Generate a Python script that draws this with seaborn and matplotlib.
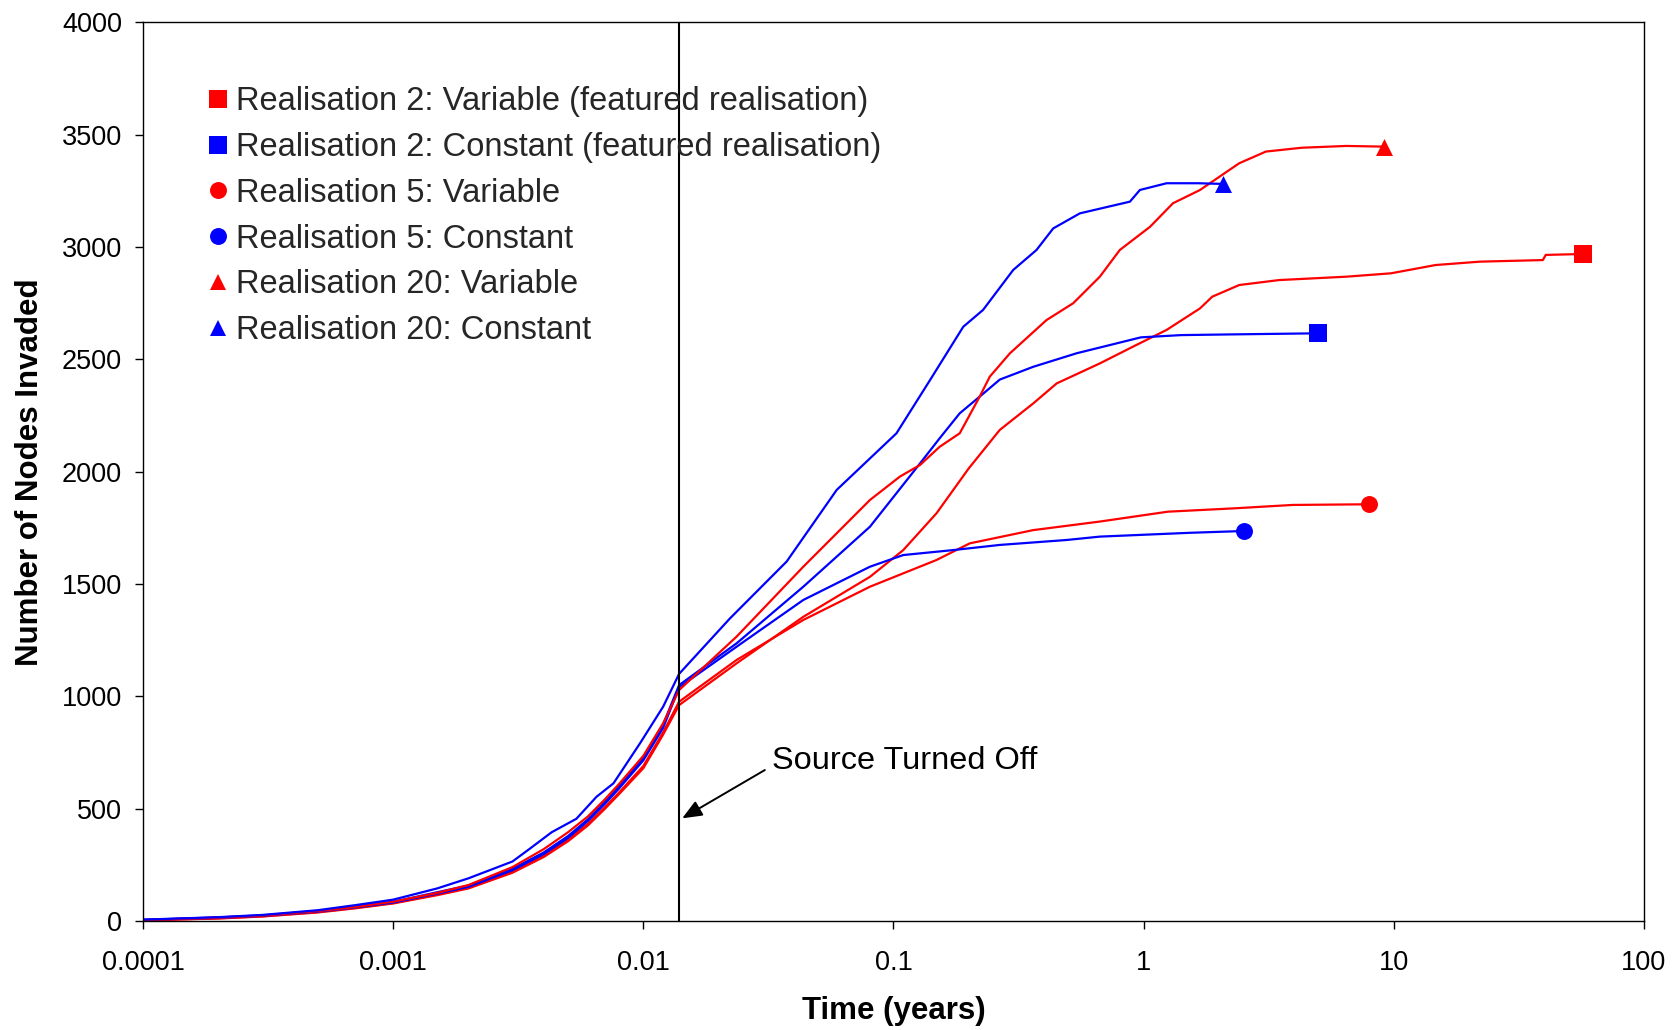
import matplotlib
matplotlib.use("Agg")
import matplotlib.pyplot as plt
from matplotlib.lines import Line2D
from matplotlib.ticker import NullLocator
import seaborn as sns

# ---------------- data ----------------
t_r2_var = [0.0001, 0.0002, 0.0003, 0.0005, 0.0007, 0.001, 0.0015, 0.002, 0.003, 0.004,
            0.005, 0.006, 0.007, 0.008, 0.01, 0.012, 0.0139, 0.0236, 0.0436, 0.0805,
            0.1094, 0.1486, 0.2, 0.266, 0.362, 0.449, 0.668, 0.908, 1.235, 1.68, 1.88,
            2.41, 3.48, 6.45, 9.73, 14.7, 22.1, 39.4, 40.5, 56.9]
n_r2_var = [3, 11, 20, 38, 56, 78, 115, 145, 215, 285,
            355, 425, 498, 565, 680, 830, 961, 1147, 1354, 1532,
            1651, 1815, 2015, 2186, 2304, 2393, 2482, 2557, 2631, 2727, 2779,
            2831, 2853, 2868, 2883, 2920, 2935, 2942, 2965, 2969]

t_r2_con = [0.0001, 0.0002, 0.0003, 0.0005, 0.0007, 0.001, 0.0015, 0.002, 0.003, 0.004,
            0.005, 0.006, 0.007, 0.008, 0.01, 0.012, 0.0139, 0.0236, 0.0436, 0.0805,
            0.1277, 0.153, 0.184, 0.221, 0.266, 0.362, 0.539, 0.975, 1.41, 2.2, 4.97]
n_r2_con = [5, 16, 25, 45, 64, 85, 128, 158, 232, 305,
            378, 452, 528, 600, 725, 875, 1050, 1236, 1488, 1755,
            2037, 2149, 2260, 2334, 2410, 2467, 2527, 2598, 2608, 2611, 2616]

t_r5_var = [0.0001, 0.0002, 0.0003, 0.0005, 0.0007, 0.001, 0.0015, 0.002, 0.003, 0.004,
            0.005, 0.006, 0.007, 0.008, 0.01, 0.012, 0.0139, 0.0236, 0.0436, 0.0805,
            0.1486, 0.2018, 0.362, 0.668, 1.25, 2.31, 3.94, 7.98]
n_r5_var = [3, 12, 21, 40, 58, 80, 118, 148, 220, 290,
            362, 432, 505, 572, 690, 840, 976, 1162, 1340, 1488,
            1607, 1681, 1740, 1778, 1822, 1837, 1852, 1855]

t_r5_con = [0.0001, 0.0002, 0.0003, 0.0005, 0.0007, 0.001, 0.0015, 0.002, 0.003, 0.004,
            0.005, 0.006, 0.007, 0.008, 0.01, 0.012, 0.0139, 0.0236, 0.0436, 0.0805,
            0.1094, 0.173, 0.266, 0.492, 0.668, 1.53, 2.52]
n_r5_con = [5, 14, 23, 42, 60, 82, 122, 152, 226, 298,
            370, 445, 520, 590, 715, 860, 1040, 1221, 1429, 1577,
            1629, 1651, 1674, 1696, 1711, 1728, 1736]

t_r20_var = [0.0001, 0.0002, 0.0003, 0.0005, 0.0007, 0.001, 0.0015, 0.002, 0.003, 0.004,
             0.005, 0.006, 0.007, 0.008, 0.01, 0.012, 0.0139, 0.0236, 0.0436, 0.0805,
             0.106, 0.1277, 0.153, 0.184, 0.221, 0.2426, 0.292, 0.409, 0.523, 0.668,
             0.803, 1.06, 1.31, 1.68, 2.2, 2.41, 3.08, 4.28, 6.45, 9.16]
n_r20_var = [4, 15, 24, 44, 62, 86, 125, 160, 240, 320,
             395, 465, 540, 610, 735, 880, 1028, 1266, 1577, 1874,
             1978, 2030, 2111, 2171, 2334, 2423, 2527, 2675, 2750, 2868,
             2987, 3090, 3195, 3254, 3343, 3373, 3425, 3442, 3450, 3447]

t_r20_con = [0.0001, 0.0002, 0.0003, 0.0005, 0.0007, 0.001, 0.0015, 0.002, 0.003, 0.0035,
             0.0043, 0.0054, 0.0065, 0.0076, 0.0097, 0.012, 0.0139, 0.0222, 0.0374, 0.0593,
             0.1028, 0.14, 0.19, 0.228, 0.301, 0.373, 0.435, 0.556, 0.881, 0.966,
             1.235, 1.65, 2.07]
n_r20_con = [6, 17, 27, 48, 70, 95, 145, 190, 265, 320,
             395, 455, 553, 613, 791, 954, 1100, 1347, 1600, 1919,
             2171, 2408, 2645, 2720, 2898, 2987, 3083, 3150, 3202, 3254,
             3284, 3284, 3281]

labels = ["Realisation 2: Variable (featured realisation)",
          "Realisation 2: Constant (featured realisation)",
          "Realisation 5: Variable",
          "Realisation 5: Constant",
          "Realisation 20: Variable",
          "Realisation 20: Constant"]

x_tick_vals = [0.0001, 0.001, 0.01, 0.1, 1, 10, 100]
x_tick_labels = ["0.0001", "0.001", "0.01", "0.1", "1", "10", "100"]
y_tick_vals = [0, 500, 1000, 1500, 2000, 2500, 3000, 3500, 4000]

source_off_time = 0.0139

# ---------------- style ----------------
sns.set_theme(style="white")
plt.rcParams["font.family"] = ["Liberation Sans", "DejaVu Sans"]

RED = "#FF0000"
BLUE = "#0000FF"

series = [
    (t_r2_var, n_r2_var, RED, "s", 13.0),
    (t_r2_con, n_r2_con, BLUE, "s", 13.0),
    (t_r5_var, n_r5_var, RED, "o", 12.2),
    (t_r5_con, n_r5_con, BLUE, "o", 12.2),
    (t_r20_var, n_r20_var, RED, "^", 12.2),
    (t_r20_con, n_r20_con, BLUE, "^", 12.2),
]

fig = plt.figure(figsize=(16.75, 10.3), dpi=100)
ax = fig.add_axes([0.08537, 0.10583, 0.89612, 0.87243])
ax.set_xscale("log")

for t, n, col, mk, ms in series:
    sns.lineplot(x=t, y=n, ax=ax, color=col, linewidth=1.6, estimator=None,
                 sort=False, legend=False)
    sns.scatterplot(x=[t[-1]], y=[n[-1]], ax=ax, color=col, marker=mk, s=ms ** 2,
                    linewidth=0, zorder=5, legend=False)

ax.axvline(source_off_time, color="black", linewidth=1.5, zorder=4)

ax.set_xlim(1e-4, 100)
ax.set_ylim(0, 4000)
ax.set_xticks(x_tick_vals)
ax.set_xticklabels(x_tick_labels)
ax.xaxis.set_minor_locator(NullLocator())
ax.set_yticks(y_tick_vals)
ax.set_yticklabels([str(v) for v in y_tick_vals])

ax.tick_params(axis="both", which="major", direction="out", length=6, width=1,
               colors="black", labelsize=19.5, bottom=True, left=True,
               top=False, right=False)
ax.tick_params(axis="x", pad=15)
ax.tick_params(axis="y", pad=9)

for sp in ax.spines.values():
    sp.set_visible(True)
    sp.set_color("black")
    sp.set_linewidth(1.0)

ax.set_xlabel("Time (years)", fontsize=22.5, fontweight="bold", color="black")
ax.set_ylabel("Number of Nodes Invaded", fontsize=22.5, fontweight="bold", color="black")
ax.xaxis.set_label_coords(0.5, -0.0998)
ax.xaxis.label.set_va("center")
ax.yaxis.set_label_coords(-0.0753, 0.5)
ax.yaxis.label.set_va("center")

# annotation
ax.annotate("", xy=(0.0143, 457), xytext=(0.0306, 672),
            arrowprops=dict(arrowstyle="-|>,head_length=0.6,head_width=0.25",
                            color="black", lw=1.4, mutation_scale=20,
                            shrinkA=0, shrinkB=0))
ax.text(0.0326, 676, "Source Turned Off", fontsize=23.4, ha="left", va="baseline",
        color="black")

# legend
handles = [Line2D([], [], linestyle="none", marker=mk, color=col, markersize=ms,
                  markeredgewidth=0) for _, _, col, mk, ms in series]
ax.legend(handles, labels, loc="upper left", bbox_to_anchor=(0.0413, 0.929),
          frameon=False, fontsize=23.5, handlelength=0.8, handletextpad=0.15,
          labelspacing=0.454, borderpad=0, borderaxespad=0)

fig.savefig("out.png", dpi=100, facecolor="white")
